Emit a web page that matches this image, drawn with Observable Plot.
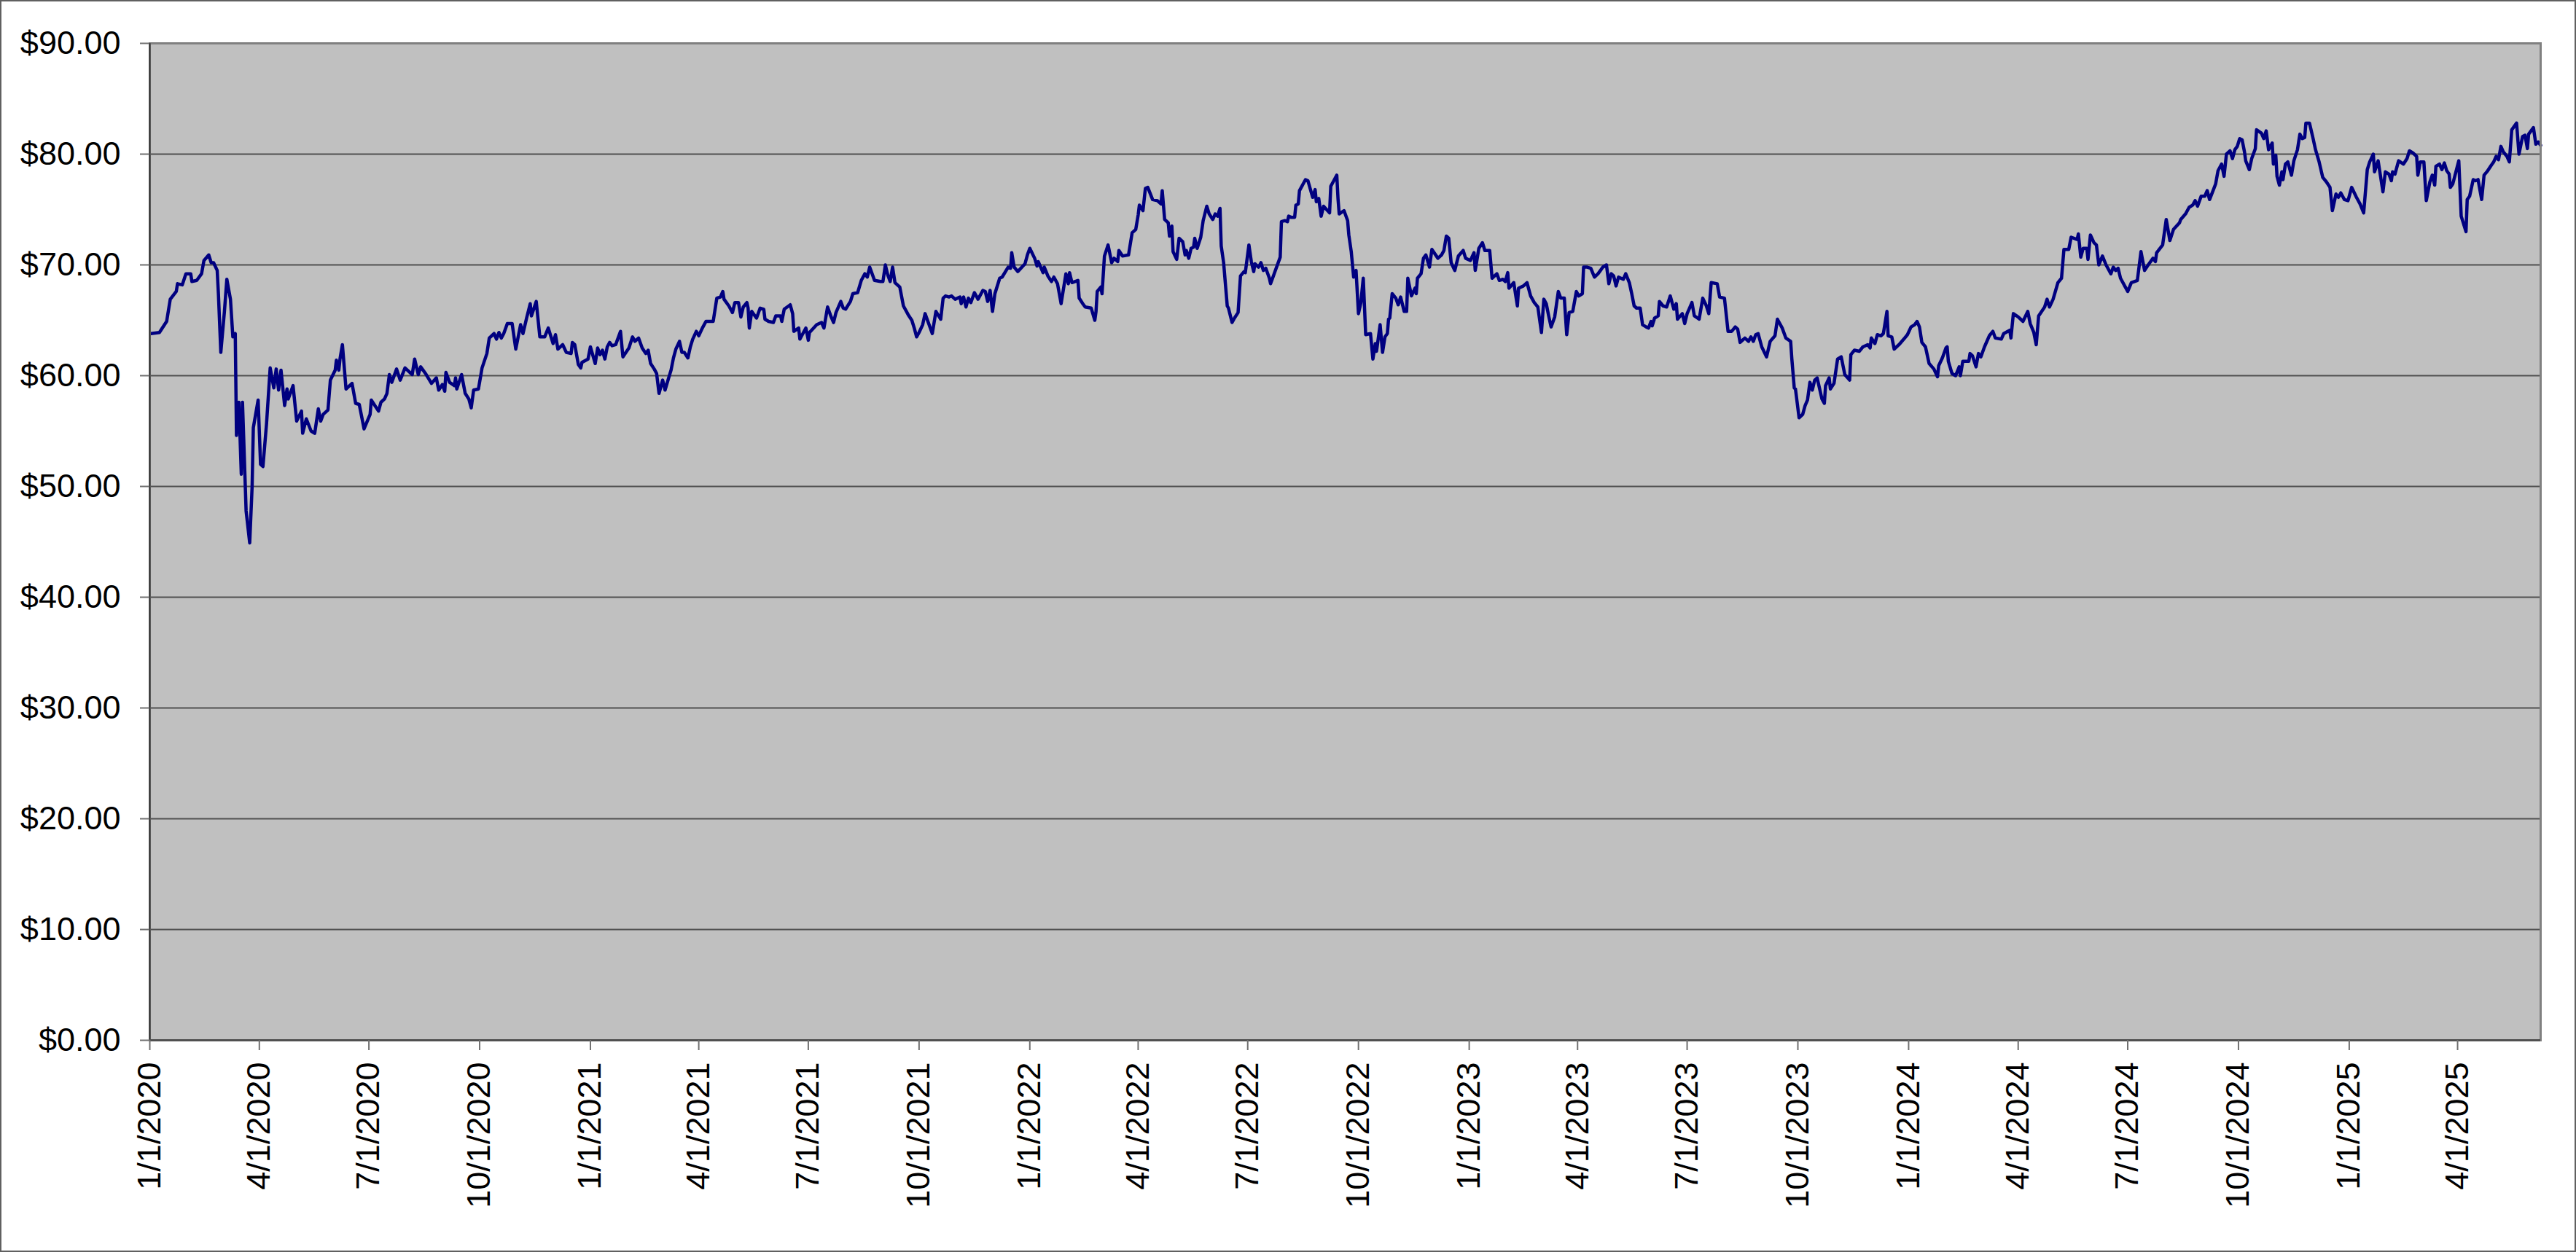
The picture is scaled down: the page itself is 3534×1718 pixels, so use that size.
<!DOCTYPE html>
<html>
<head>
<meta charset="utf-8">
<script src="https://cdn.jsdelivr.net/npm/d3@7"></script>
<script src="https://cdn.jsdelivr.net/npm/@observablehq/plot@0.6"></script>
<style>
  html, body { margin: 0; padding: 0; background: #fff; overflow: hidden; }
  #chart svg { display: block; outline: 2px solid #606060; outline-offset: -2px; }
</style>
</head>
<body>
<div id="chart"></div>
<script>
const startDate = "2020-01-01";
const endDate = "2025-06-09";

// Days since 1/1/2020 and closing prices
const dayOffsets = [
1,8,14,17,22,23,27,30,34,35,39,43,45,49,51,53,56,57,59,62,64,67,69,71,72,74,76,77,80,83,85,86,90,92,94,97,100,103,105,107,109,112,114,115,119,122,126,127,130,134,137,140,142,144,148,150,154,155,157,158,160,163,168,171,174,178,183,184,190,192,195,197,199,201,205,208,212,218,220,223,225,229,234,238,240,243,245,246,249,
253,254,255,259,262,265,267,269,273,276,280,282,286,288,290,292,294,297,301,304,308,310,313,316,317,321,324,328,331,335,337,339,343,346,350,351,353,356,358,359,364,366,370,372,374,376,378,380,382,384,387,388,391,393,398,401,403,406,409,412,414,416,419,421,423,426,428,431,433,435,437,440,442,444,447,449,451,454,456,459,462,465,468,471,474,476,477,481,484,486,489,491,493,496,
497,498,500,504,507,510,511,514,518,520,524,525,527,532,534,535,539,540,542,545,547,548,554,558,560,563,566,568,570,574,576,578,582,584,588,591,594,596,598,602,607,609,611,613,615,617,619,623,626,630,633,635,637,639,642,644,647,650,653,657,659,661,664,666,669,673,674,676,678,680,682,685,688,692,694,696,698,700,702,706,708,713,715,716,718,721,727,729,731,735,737,738,742,743,746,
749,751,754,757,761,763,764,766,771,772,775,777,782,785,786,787,790,791,793,796,799,801,804,805,808,813,816,819,821,822,825,827,829,833,837,840,841,843,846,847,849,850,853,855,858,860,861,863,865,867,868,870,873,875,878,880,883,885,887,889,890,892,895,896,899,901,904,906,909,910,913,915,917,918,921,923,925,927,930,931,933,935,939,940,943,945,946,948,951,952,954,955,958,960,962,966,968,969,971,973,975,980,981,983,986,987,988,992,
995,996,998,1000,1002,1004,1006,1008,1010,1014,1016,1018,1019,1022,1024,1026,1028,1029,1030,1032,1035,1037,1039,1042,1044,1045,1048,1051,1052,1053,1056,1058,1060,1063,1065,1070,1073,1075,1077,1079,1081,1084,1087,1091,1093,1097,1100,1101,1104,1107,1109,1113,1115,1119,1121,1124,1126,1128,1129,1133,1136,1137,1141,1144,1147,1150,1153,1156,1158,1160,1162,1164,1167,1170,1172,1175,1177,1179,1182,1185,1187,1190,1191,1194,1197,1200,1203,1205,1207,1210,1212,1214,1216,1218,1220,1224,1226,1229,1231,1233,1235,1238,1240,1243,
1245,1247,1248,1250,1253,1254,1257,1260,1263,1266,1268,1269,1273,1275,1277,1279,1281,1283,1287,1290,1293,1295,1297,1302,1304,1308,1311,1314,1317,1319,1321,1325,1328,1330,1332,1334,1336,1339,1343,1346,1350,1352,1356,1359,1363,1364,1366,1367,1370,1373,1375,1377,1379,1381,1383,1385,1389,1391,1392,1395,1396,1399,1402,1405,1408,1412,1413,1416,1420,1423,1427,1429,1430,1433,1435,1438,1440,1443,1444,1447,1449,1453,1457,1460,1463,1466,1468,1470,1472,1475,1478,1482,1485,1486,1489,1492,
1493,1494,1497,1500,1503,1504,1506,1511,1512,1514,1517,1519,1521,1524,1528,1531,1533,1538,1540,1545,1546,1548,1552,1556,1560,1562,1565,1567,1569,1574,1576,1578,1581,1585,1588,1590,1594,1596,1601,1602,1604,1606,1609,1610,1612,1615,1617,1619,1622,1625,1629,1631,1633,1635,1637,1641,1643,1646,1651,1654,1657,1660,1664,1666,1667,1672,1675,1678,1681,1686,1687,1691,1694,1697,1699,1701,1704,1707,1709,1711,1716,1718,1721,1723,1725,1728,1730,1732,1734,1736,1738,1740,
1741,1744,1746,1749,1750,1754,1756,1758,1760,1763,1764,1766,1767,1769,1771,1772,1774,1776,1779,1781,1784,1786,1788,1790,1791,1794,1797,1799,1802,1805,1808,1811,1813,1816,1818,1820,1823,1826,1829,1833,1836,1839,1842,1844,1847,1848,1851,1855,1857,1860,1862,1863,1865,1868,1872,1875,1877,1880,1883,1884,1886,1889,1891,1894,1896,1898,1899,1902,1904,1906,1908,1910,1911,1913,1918,1920,1924,1925,1927,1930,1932,1934,1937,1939,1942,1945,1947,1949,1951,1953,1955,1958,1960,1962,1966,1968,1971,1973,1975,1976,1978,1980,1982,1984,1986
];

const prices = [
63.8,63.9,64.9,66.9,67.6,68.3,68.2,69.2,69.2,68.5,68.6,69.2,70.4,70.9,70.2,70.2,69.5,67.4,62.1,65.8,68.7,66.9,63.5,63.8,54.6,57.6,51.1,57.6,47.8,44.9,50.0,55.3,57.8,52.0,51.8,55.7,60.7,58.9,60.6,58.7,60.5,57.3,58.8,57.9,59.1,55.9,56.8,54.8,56.1,55.0,54.8,57.0,55.9,56.5,56.9,59.6,60.5,61.4,60.5,61.5,62.8,58.8,59.3,57.5,57.4,55.2,56.5,57.8,56.8,57.6,57.9,58.4,60.1,59.4,60.6,59.6,60.7,60.1,61.5,60.1,60.8,60.2,59.3,59.8,58.7,59.2,58.6,60.3,59.4,
59.1,59.8,58.8,60.1,58.4,57.9,57.1,58.7,58.8,60.7,62.0,63.4,63.8,63.3,63.9,63.4,63.8,64.7,64.7,62.4,64.6,63.8,65.2,66.5,65.4,66.7,63.5,63.5,64.3,62.9,63.7,62.4,62.8,62.1,62.0,63.0,62.8,61.0,60.7,61.2,61.5,62.6,61.1,62.5,61.9,62.3,61.5,62.6,63.0,62.7,62.8,63.1,64.0,61.7,62.5,63.5,63.1,63.4,62.5,62.0,62.3,61.1,60.6,60.2,58.4,59.6,58.7,59.8,60.5,61.6,62.4,63.1,62.1,62.1,61.6,62.6,63.3,64.0,63.6,64.3,64.9,64.9,64.9,67.0,67.1,67.6,66.9,66.3,65.7,66.6,66.6,65.3,66.2,66.6,
66.1,64.3,65.8,65.2,66.1,66.0,65.1,64.9,64.8,65.4,65.4,64.9,66.0,66.4,65.6,64.0,64.3,63.3,63.7,64.3,63.2,63.9,64.6,64.8,64.3,66.2,65.3,64.8,65.7,66.7,66.1,66.0,66.7,67.4,67.5,68.6,69.2,68.9,69.8,68.6,68.5,68.5,70.0,69.1,68.5,69.8,68.4,68.0,66.3,65.5,65.0,64.3,63.5,63.9,64.6,65.6,64.7,63.8,65.8,65.1,67.0,67.2,67.1,67.2,66.9,67.1,66.5,67.1,66.2,67.0,66.6,67.5,66.9,67.7,67.6,66.7,67.7,65.8,67.4,68.8,68.9,69.8,69.7,71.1,69.8,69.4,70.1,70.9,71.5,70.6,69.9,70.3,69.3,69.8,69.0,
68.5,68.9,68.3,66.5,69.2,68.3,69.3,68.4,68.6,67.0,66.5,66.2,66.1,65.0,65.8,67.6,68.0,67.4,70.8,71.8,70.2,70.6,70.3,71.3,70.8,70.9,72.9,73.2,74.5,75.4,74.9,76.9,77.0,75.9,75.8,75.5,76.7,74.1,73.8,72.6,73.5,71.2,70.5,72.4,72.1,70.9,71.3,70.6,71.5,71.6,72.4,71.5,72.5,74.0,75.3,74.6,74.1,74.6,74.4,75.1,71.7,70.2,66.3,66.1,64.8,65.2,65.7,69.0,69.4,69.3,71.8,70.3,69.4,70.1,69.8,70.2,69.5,69.7,68.8,68.3,68.9,69.5,70.7,73.9,74.0,73.9,74.4,74.3,74.3,75.4,75.5,76.7,77.3,77.7,77.6,76.1,76.8,75.7,76.0,74.4,75.3,74.7,77.1,77.5,78.1,76.0,74.6,74.9,
74.0,72.7,71.2,68.9,69.5,65.6,66.6,68.8,63.7,63.8,61.5,62.9,62.2,64.6,62.1,63.5,63.8,65.1,65.2,67.4,67.0,66.4,67.1,65.8,65.8,68.8,67.2,67.9,67.4,68.8,69.2,70.6,70.9,69.8,71.4,70.6,70.9,71.3,72.6,72.4,70.2,69.5,70.8,71.3,70.6,70.4,71.1,69.5,71.5,72.0,71.3,71.3,68.8,69.2,68.6,68.7,68.5,69.3,67.9,68.4,66.3,67.9,68.1,68.4,67.2,66.6,66.2,63.9,66.9,66.5,65.4,64.4,65.3,67.6,67.0,67.0,63.7,65.7,65.8,67.6,67.2,67.4,69.8,69.8,69.7,68.9,69.2,69.5,69.8,70.0,68.3,69.2,69.0,68.1,68.9,68.7,69.2,68.4,67.4,66.3,66.1,66.1,64.6,64.4,
64.3,64.9,64.5,65.2,65.4,66.7,66.3,66.2,67.2,66.0,66.5,65.1,65.6,64.7,65.6,66.1,66.6,65.4,65.1,67.0,66.3,65.6,68.4,68.3,67.1,67.0,64.0,64.0,64.4,64.2,63.0,63.4,63.1,63.5,63.1,63.7,63.8,62.6,61.7,63.1,63.6,65.1,64.3,63.4,63.1,61.5,58.9,58.8,56.2,56.5,57.3,57.8,59.4,58.7,59.6,59.8,57.9,57.5,59.1,59.8,58.8,59.3,61.5,61.7,60.1,59.6,61.9,62.3,62.2,62.6,62.8,62.5,63.4,62.9,63.7,63.6,63.8,65.8,63.6,63.5,62.4,62.8,63.3,63.7,64.4,64.6,64.9,64.4,63.0,62.6,61.1,60.6,59.9,60.9,61.6,62.5,
62.6,61.3,60.2,60.0,60.8,60.0,61.3,61.3,62.0,61.8,60.8,62.0,61.7,62.6,63.6,64.0,63.4,63.3,63.8,64.1,63.4,65.6,65.3,64.9,65.8,64.7,63.9,62.8,65.4,66.2,66.9,66.2,66.9,68.4,68.8,71.4,71.4,72.5,72.3,72.8,70.7,71.5,71.5,70.5,72.7,72.0,71.8,70.0,70.8,70.0,69.2,69.8,69.5,69.7,68.8,68.0,67.6,68.4,68.6,71.2,69.5,70.0,70.6,70.3,71.1,71.8,74.1,72.2,73.2,73.8,74.1,74.6,75.2,75.4,75.8,75.3,76.2,76.2,76.7,75.9,77.3,78.5,79.1,78.0,80.0,80.3,79.6,80.4,80.7,81.4,81.3,80.2,
79.4,78.6,79.6,80.5,82.2,81.9,81.4,82.1,80.4,81.0,79.1,79.9,78.0,77.2,78.4,77.7,79.1,79.3,78.1,79.4,80.4,81.8,81.4,81.5,82.8,82.8,81.4,80.4,79.3,77.9,77.5,77.0,74.9,76.4,76.1,76.5,75.9,75.8,77.0,76.1,75.5,74.7,78.6,79.3,80.0,78.4,79.4,76.6,78.4,78.2,77.6,78.4,78.2,79.4,79.1,79.6,80.3,80.1,79.8,78.1,79.3,79.3,75.8,77.5,78.1,77.2,78.9,79.1,78.6,79.2,78.5,78.2,77.0,77.3,79.4,74.4,73.0,75.9,76.2,77.7,77.6,77.7,75.9,78.1,78.5,79.0,79.3,79.8,79.5,80.7,80.2,79.8,79.3,82.2,82.8,80.0,81.6,81.7,80.5,81.8,82.1,82.4,80.9,81.1,80.8
];

const yTicks = [0, 10, 20, 30, 40, 50, 60, 70, 80, 90];
const xTickDates = [
"2020-01-01","2020-04-01","2020-07-01","2020-10-01",
"2021-01-01","2021-04-01","2021-07-01","2021-10-01",
"2022-01-01","2022-04-01","2022-07-01","2022-10-01",
"2023-01-01","2023-04-01","2023-07-01","2023-10-01",
"2024-01-01","2024-04-01","2024-07-01","2024-10-01",
"2025-01-01","2025-04-01"
];

const start = new Date(startDate + "T00:00:00Z");
const n = Math.min(dayOffsets.length, prices.length);
const data = [];
for (let i = 0; i < n; i++) {
  data.push({date: d3.utcDay.offset(start, dayOffsets[i]), price: prices[i]});
}
const xTicks = xTickDates.map(s => new Date(s + "T00:00:00Z"));
const fmtDate = d3.utcFormat("%-m/%-d/%Y");

const chart = Plot.plot({
  width: 3534,
  height: 1718,
  marginLeft: 205,
  marginRight: 49,
  marginTop: 59,
  marginBottom: 291,
  style: {fontFamily: "'Liberation Sans', Arial, sans-serif", fontSize: "45px", background: "#ffffff", color: "#000000"},
  x: {type: "utc", domain: [start, new Date(endDate + "T00:00:00Z")]},
  y: {domain: [0, 90]},
  marks: [
    Plot.frame({fill: "#c0c0c0", stroke: null}),
    Plot.gridY(yTicks.filter(v => v > 0 && v < 90), {stroke: "#505050", strokeOpacity: 1, strokeWidth: 2}),
    Plot.line(data, {x: "date", y: "price", stroke: "#000080", strokeWidth: 4.5, strokeLinejoin: "round"}),
    Plot.frame({stroke: "#808080", strokeWidth: 3, fill: null}),
    Plot.ruleX([start], {stroke: "#303030", strokeWidth: 2}),
    Plot.ruleY([0], {stroke: "#505050", strokeWidth: 3}),
    Plot.axisY({ticks: yTicks, tickFormat: d => "$" + d.toFixed(2), tickSize: 13, tickPadding: 27, fontSize: 45, stroke: "#707070", strokeWidth: 2, label: null}),
    Plot.axisX({ticks: xTicks, tickFormat: fmtDate, tickRotate: -90, tickSize: 14, tickPadding: 16, fontSize: 45, stroke: "#707070", strokeWidth: 2, label: null})
  ]
});
document.getElementById("chart").appendChild(chart);
</script>
</body>
</html>
